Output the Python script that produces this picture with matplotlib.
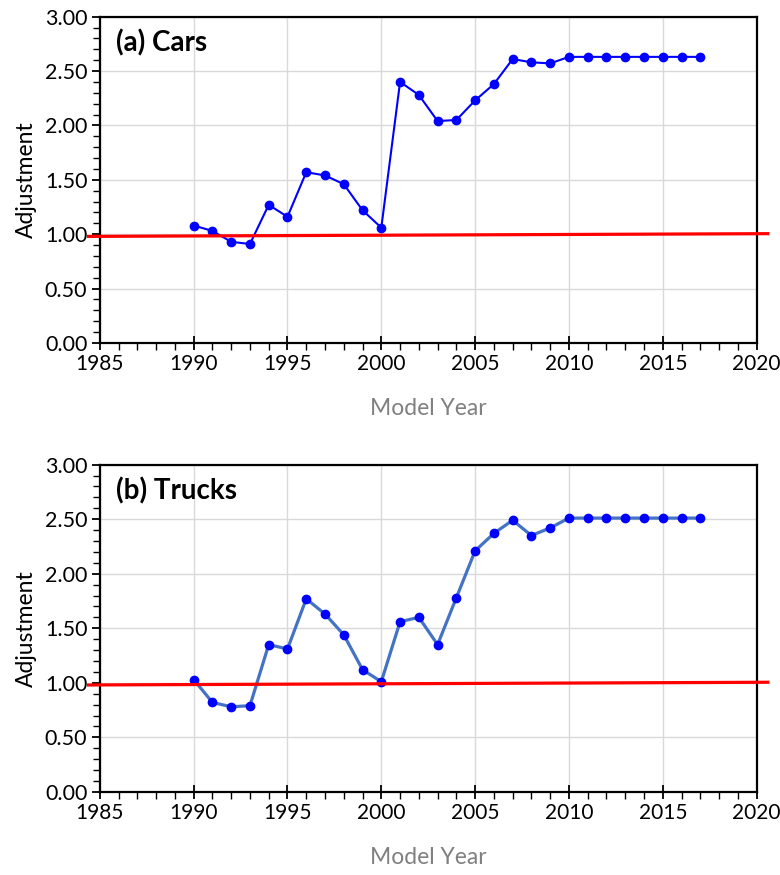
import numpy as np
import matplotlib
matplotlib.use("Agg")
import matplotlib.pyplot as plt
from matplotlib.ticker import MultipleLocator, FormatStrFormatter

plt.rcParams["font.family"] = ["Lato", "DejaVu Sans"]

years = list(range(1990, 2018))
cars = [1.08, 1.03, 0.93, 0.91, 1.27, 1.16, 1.57, 1.54, 1.46, 1.22, 1.06,
        2.40, 2.28, 2.04, 2.05, 2.23, 2.38, 2.61, 2.58, 2.57,
        2.63, 2.63, 2.63, 2.63, 2.63, 2.63, 2.63, 2.63]
trucks = [1.03, 0.82, 0.78, 0.79, 1.35, 1.31, 1.77, 1.63, 1.44, 1.12, 1.01,
          1.56, 1.60, 1.35, 1.78, 2.21, 2.37, 2.49, 2.35, 2.42,
          2.51, 2.51, 2.51, 2.51, 2.51, 2.51, 2.51, 2.51]
ref_x = [1984.4, 2020.6]
ref_y = [0.98, 1.005]

MARK = "#0000ff"
GRID = "#d9d9d9"

fig = plt.figure(figsize=(7.8, 8.75), dpi=100)
ax1 = fig.add_axes([0.128, 0.608, 0.842, 0.373])
ax2 = fig.add_axes([0.128, 0.095, 0.842, 0.374])

panels = [(ax1, cars, "#0000ff", 1.5, "(a) Cars"),
          (ax2, trucks, "#4472c4", 2.3, "(b) Trucks")]

for ax, vals, lc, lw, title in panels:
    ax.plot(years, vals, color=lc, lw=lw, zorder=3)
    ax.plot(years, vals, "o", color=MARK, ms=6, zorder=4)
    ax.plot(ref_x, ref_y, color="#ff0000", lw=2.3, zorder=5, clip_on=False)
    ax.set_xlim(1985, 2020)
    ax.set_ylim(0, 3)
    ax.xaxis.set_major_locator(MultipleLocator(5))
    ax.xaxis.set_minor_locator(MultipleLocator(1))
    ax.yaxis.set_major_locator(MultipleLocator(0.5))
    ax.yaxis.set_minor_locator(MultipleLocator(0.1))
    ax.yaxis.set_major_formatter(FormatStrFormatter("%.2f"))
    ax.grid(which="major", color=GRID, lw=1)
    ax.set_axisbelow(True)
    for s in ax.spines.values():
        s.set_color("black"); s.set_linewidth(1.6)
    ax.tick_params(axis="y", which="major", direction="out", length=6, width=1.3,
                   labelsize=15.5, pad=3)
    ax.tick_params(axis="y", which="minor", direction="out", length=5, width=1.0)
    ax.tick_params(axis="x", which="major", direction="inout", length=10, width=1.3,
                   labelsize=15, pad=3)
    ax.tick_params(axis="x", which="minor", direction="out", length=5, width=1.0)
    ax.set_ylabel("Adjustment", fontsize=16.5, labelpad=6)
    ax.set_xlabel("Model Year", fontsize=16.5, color="#808080", labelpad=17)
    ax.text(0.025, 0.96, title, transform=ax.transAxes, fontsize=20,
            fontweight="bold", va="top", ha="left")

fig.savefig("out.png", dpi=100, facecolor="white")
